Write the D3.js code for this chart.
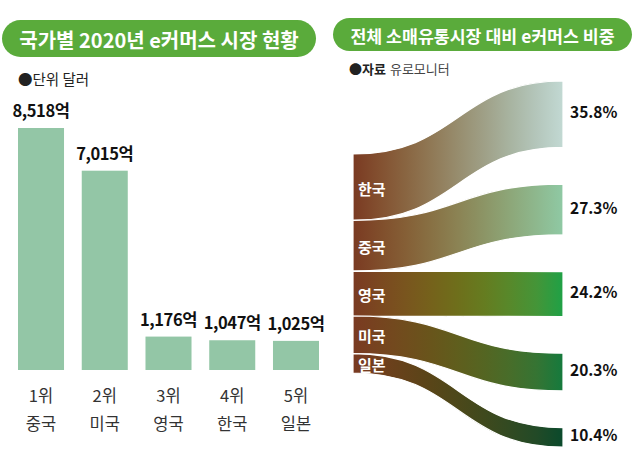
<!DOCTYPE html>
<html><head><meta charset="utf-8">
<script src="https://cdn.jsdelivr.net/npm/d3@7"></script>
<style>
html,body{margin:0;padding:0;background:#fff;}
svg{display:block;font-family:"Noto Sans CJK KR","Noto Sans",sans-serif;}
</style></head>
<body>
<svg id="chart" width="640" height="457"></svg>
<script>
// ---- data ----
const leftTitle = "국가별 2020년 e커머스 시장 현황";
const rightTitle = "전체 소매유통시장 대비 e커머스 비중";
const unitNote = "●단위 달러";
const sourceBold = "●자료";
const sourceText = "유로모니터";
const rankLabels = ["1위", "2위", "3위", "4위", "5위"];
const salesCountries = ["중국", "미국", "영국", "한국", "일본"];
const salesValues = [8518, 7015, 1176, 1047, 1025];
const shareCountries = ["한국", "중국", "영국", "미국", "일본"];
const shareValues = [35.8, 27.3, 24.2, 20.3, 10.4];

// ---- styles ----
const pillColor = "#5aab3b";
const barColor = "#93c6a6";
const flowStart = "#7a3a22";
const flowEnds = ["#c2d9d3", "#8fc9a4", "#1fa146", "#157a3d", "#0a4a2c"];

const svg = d3.select("#chart");

// ---- titles ----
function pill(x, y, w, h, text, size) {
  svg.append("rect").attr("x", x).attr("y", y).attr("width", w).attr("height", h)
    .attr("rx", h / 2).attr("fill", pillColor);
  svg.append("text").attr("x", x + w / 2).attr("y", y + h / 2 + 1)
    .attr("text-anchor", "middle").attr("dominant-baseline", "central")
    .attr("fill", "#fff").attr("font-weight", 700).attr("font-size", size)
    .text(text);
}
pill(2, 20, 314, 37, leftTitle, 20);
pill(333, 18, 299, 33, rightTitle, 17.3);

svg.append("text").attr("x", 18).attr("y", 78).attr("dominant-baseline", "central")
  .attr("font-size", 14.5).attr("fill", "#222").text(unitNote);
const src = svg.append("text").attr("x", 349).attr("y", 68).attr("dominant-baseline", "central")
  .attr("font-size", 13).attr("fill", "#222");
src.append("tspan").attr("font-weight", 700).text(sourceBold);
src.append("tspan").attr("dx", 4).attr("fill", "#444").text(sourceText);

// ---- bar chart ----
const x = d3.scaleBand().domain(d3.range(salesValues.length))
  .range([18, 319]).paddingInner(0.278).paddingOuter(0);
const y = d3.scaleLinear().domain([0, d3.max(salesValues)]).range([370, 128]);

const bars = svg.append("g");
bars.selectAll("rect").data(salesValues).join("rect")
  .attr("x", (d, i) => x(i)).attr("width", x.bandwidth())
  .attr("y", d => y(d)).attr("height", d => y(0) - y(d))
  .attr("fill", barColor);
bars.selectAll("text.val").data(salesValues).join("text").attr("class", "val")
  .attr("x", (d, i) => x(i) + x.bandwidth() / 2).attr("y", d => y(d) - 11)
  .attr("text-anchor", "middle").attr("font-size", 16.5).attr("font-weight", 700)
  .attr("fill", "#111").attr("letter-spacing", -0.4)
  .text(d => d3.format(",")(d) + "억");
bars.selectAll("text.rank").data(rankLabels).join("text").attr("class", "rank")
  .attr("x", (d, i) => x(i) + x.bandwidth() / 2).attr("y", 402)
  .attr("text-anchor", "middle").attr("font-size", 16.5).attr("fill", "#333").text(d => d);
bars.selectAll("text.cty").data(salesCountries).join("text").attr("class", "cty")
  .attr("x", (d, i) => x(i) + x.bandwidth() / 2).attr("y", 430)
  .attr("text-anchor", "middle").attr("font-size", 16.5).attr("fill", "#333").text(d => d);

// ---- sankey-like flows ----
const total = d3.sum(shareValues);
const x0 = 353, x1 = 563;
const leftTop = 154, leftBot = 373;
const rightTop = 81, rightBot = 447;
const k = d3.scaleLinear().domain([0, total]).range([0, leftBot - leftTop]);
const gap = ((rightBot - rightTop) - k(total)) / (shareValues.length - 1);
const cum = d3.cumsum([0, ...shareValues]);
const flows = shareValues.map((v, i) => ({
  name: shareCountries[i], value: v,
  l0: leftTop + k(cum[i]), l1: leftTop + k(cum[i + 1]),
  r0: rightTop + k(cum[i]) + gap * i, r1: rightTop + k(cum[i + 1]) + gap * i
}));

const defs = svg.append("defs");
flows.forEach((f, i) => {
  const g = defs.append("linearGradient").attr("id", "fg" + i)
    .attr("gradientUnits", "userSpaceOnUse")
    .attr("x1", x0).attr("x2", x1).attr("y1", 0).attr("y2", 0);
  const lab = d3.interpolateLab(flowStart, flowEnds[i]);
  const hcl = d3.interpolateHcl(flowStart, flowEnds[i]);
  d3.range(0, 1.0001, 0.125).forEach(t => {
    g.append("stop").attr("offset", t)
      .attr("stop-color", d3.interpolateRgb(lab(t), hcl(t))(0.5));
  });
});

const xm = (x0 + x1) / 2;
function flowPath(f) {
  const p = d3.path();
  p.moveTo(x0, f.l0);
  p.bezierCurveTo(xm, f.l0, xm, f.r0, x1, f.r0);
  p.lineTo(x1, f.r1);
  p.bezierCurveTo(xm, f.r1, xm, f.l1, x0, f.l1);
  p.closePath();
  return p.toString();
}
const fg = svg.append("g");
fg.selectAll("path").data(flows).join("path")
  .attr("d", flowPath).attr("fill", (d, i) => `url(#fg${i})`)
  .attr("stroke", "#fff").attr("stroke-width", 1.2);

fg.selectAll("text.name").data(flows).join("text").attr("class", "name")
  .attr("x", 358).attr("y", d => (d.l0 + d.l1) / 2 + 1)
  .attr("dominant-baseline", "central").attr("font-size", 15).attr("font-weight", 700)
  .attr("fill", "#fff").text(d => d.name);
fg.selectAll("text.pct").data(flows).join("text").attr("class", "pct")
  .attr("x", 570).attr("y", d => (d.r0 + d.r1) / 2 - 3)
  .attr("dominant-baseline", "central").attr("font-size", 15.5).attr("font-weight", 700)
  .attr("fill", "#111").text(d => d.value.toFixed(1) + "%");
</script>
</body></html>
